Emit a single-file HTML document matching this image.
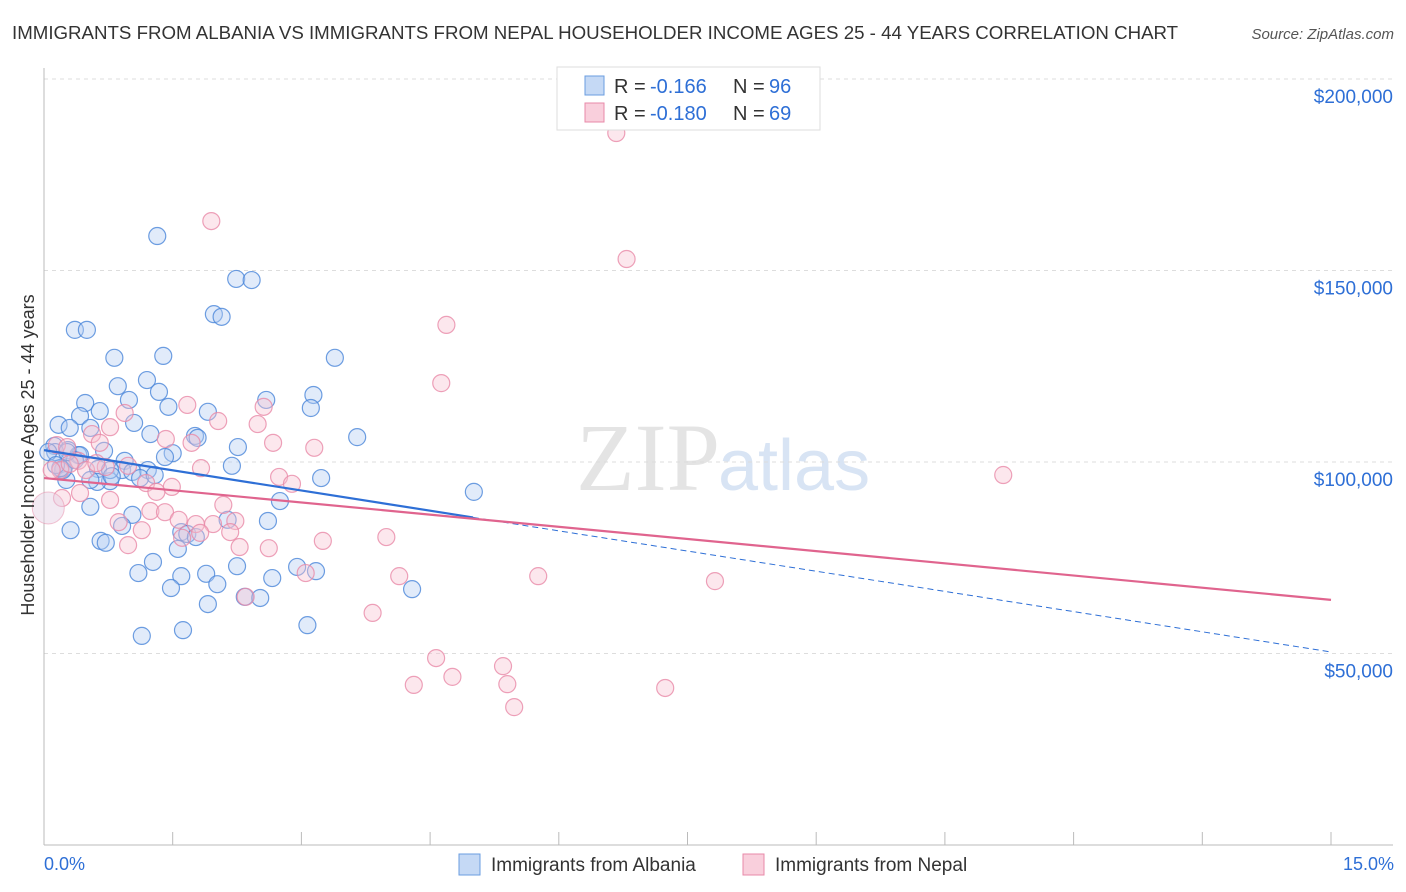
<!DOCTYPE html>
<html><head><meta charset="utf-8"><style>
body{margin:0;background:#fff;font-family:"Liberation Sans",sans-serif;}
svg{display:block}
</style></head><body>
<svg id="chart" width="1406" height="892">
<text x="12" y="39" font-size="18.7" fill="#333">IMMIGRANTS FROM ALBANIA VS IMMIGRANTS FROM NEPAL HOUSEHOLDER INCOME AGES 25 - 44 YEARS CORRELATION CHART</text>
<text x="1394" y="39" font-size="15" fill="#555" font-style="italic" text-anchor="end">Source: ZipAtlas.com</text>
<text x="720" y="490" font-size="96" fill="#e4e4e4" text-anchor="end" font-family="Liberation Serif,serif">ZIP</text>
<text x="718" y="490" font-size="72" fill="#d8e4f4">atlas</text>
<g id="grid"></g><g id="axes"></g><g id="pts"></g><g id="trend"></g>
<text transform="translate(34,455) rotate(-90)" font-size="18" fill="#333" text-anchor="middle">Householder Income Ages 25 - 44 years</text>
<g>
<rect x="557" y="67" width="263" height="63" fill="#fff" stroke="#ddd"/>
<rect x="585" y="76" width="19" height="19" fill="#c5d9f5" stroke="#6a9de0"/>
<rect x="585" y="103" width="19" height="19" fill="#f9cfdc" stroke="#e88aa8"/>
<text x="614" y="93" font-size="20" fill="#333">R =</text>
<text x="650" y="93" font-size="20" fill="#2e6fd6">-0.166</text>
<text x="733" y="93" font-size="20" fill="#333">N =</text>
<text x="769" y="93" font-size="20" fill="#2e6fd6">96</text>
<text x="614" y="120" font-size="20" fill="#333">R =</text>
<text x="650" y="120" font-size="20" fill="#2e6fd6">-0.180</text>
<text x="733" y="120" font-size="20" fill="#333">N =</text>
<text x="769" y="120" font-size="20" fill="#2e6fd6">69</text>
</g>
<g>
<rect x="459" y="854" width="21" height="21" fill="#c5d9f5" stroke="#6a9de0"/>
<text x="491" y="871" font-size="19" fill="#333">Immigrants from Albania</text>
<rect x="743" y="854" width="21" height="21" fill="#f9cfdc" stroke="#e88aa8"/>
<text x="775" y="871" font-size="19" fill="#333">Immigrants from Nepal</text>
</g>
<text x="44" y="870" font-size="18" fill="#2e6fd6">0.0%</text>
<text x="1394" y="870" font-size="18" fill="#2e6fd6" text-anchor="end">15.0%</text>
</svg>
<script>
const yTicks=[50,100,150,200];
const yTickLabels=["$50,000","$100,000","$150,000","$200,000"];
const xTicks=[0,1.5,3,4.5,6,7.5,9,10.5,12,13.5,15];
const albaniaPx=[[157,236],[236,279],[252,280],[214,314],[222,317],[75,330],[87,330],[163,356],[114,358],[335,358],[147,380],[118,386],[159,392],[313,395],[266,400],[129,400],[85,403],[168,407],[208,412],[100,411],[311,408],[80,416],[134,423],[59,425],[70,428],[90,428],[150,434],[357,437],[195,436],[198,438],[54,446],[238,447],[68,450],[173,453],[78,455],[104,451],[165,457],[55,452],[125,461],[232,466],[64,468],[148,470],[98,469],[122,470],[132,472],[140,478],[110,481],[97,482],[321,478],[66,480],[474,492],[90,507],[280,501],[132,515],[228,520],[268,521],[122,526],[71,530],[181,532],[187,534],[196,537],[101,541],[106,543],[178,549],[153,562],[237,566],[297,567],[316,571],[138,573],[181,576],[206,574],[272,578],[171,588],[217,584],[412,589],[245,597],[260,598],[208,604],[142,636],[183,630],[307,625],[63,470],[80,455],[110,470],[75,460],[60,468],[48,452],[56,465],[112,476],[90,480],[67,452],[155,475]];
const nepalPx=[[616,133],[211,221],[627,259],[446,325],[441,383],[264,407],[125,413],[187,405],[218,421],[258,424],[110,427],[166,439],[92,434],[273,443],[192,443],[314,448],[100,443],[57,445],[67,447],[78,461],[1003,475],[128,466],[106,467],[279,477],[292,484],[201,468],[86,470],[60,470],[70,464],[96,463],[52,470],[146,483],[172,487],[80,493],[156,492],[223,505],[150,511],[165,512],[179,520],[119,522],[213,524],[235,521],[196,524],[142,530],[230,532],[182,538],[323,541],[386,537],[128,545],[240,547],[269,548],[538,576],[399,576],[715,581],[306,573],[246,597],[373,613],[436,658],[503,666],[414,685],[452,677],[507,684],[665,688],[514,707],[62,498],[110,500],[200,533]];
const albaniaX=albaniaPx.map(p=>+((p[0]-44)/85.8).toFixed(2));
const albaniaY=albaniaPx.map(p=>+((845-p[1])/3.83).toFixed(1));
const nepalX=nepalPx.map(p=>+((p[0]-44)/85.8).toFixed(2));
const nepalY=nepalPx.map(p=>+((845-p[1])/3.83).toFixed(1));
const albaniaTrend=[103.1,50.4];
const nepalTrend=[95.8,64.0];
const X=v=>44+v*85.8, Y=v=>845-v*3.83;
const NS="http://www.w3.org/2000/svg";
function mk(tag,attrs,parent){const e=document.createElementNS(NS,tag);for(const k in attrs)e.setAttribute(k,attrs[k]);document.getElementById(parent).appendChild(e);return e;}
yTicks.forEach((t,i)=>{
 const l=mk('line',{x1:44,x2:1393,y1:Y(t),y2:Y(t),stroke:'#ddd','stroke-dasharray':'4,4'},'grid');
 
 
 const tx=mk('text',{x:1393,y:Y(t)+24,'font-size':19,fill:'#2e6fd6','text-anchor':'end'},'grid');
 tx.textContent=yTickLabels[i];
 
 
});
const ax=mk('line',{x1:44,x2:1393,y1:845,y2:845,stroke:'#bbb'},'axes');


const ay=mk('line',{x1:44,x2:44,y1:68,y2:845,stroke:'#bbb'},'axes');


xTicks.forEach(t=>{
 const l=mk('line',{x1:X(t),x2:X(t),y1:832,y2:845,stroke:'#bbb'},'axes');
 
 
});
function dots(xs,ys,fill,stroke,name){
 xs.forEach((x,i)=>{
  const c=mk('circle',{cx:X(x),cy:Y(ys[i]),r:8.5,fill:fill,'fill-opacity':0.4,stroke:stroke,'stroke-width':1.2,'stroke-opacity':0.8},'pts');
  
  
 });
}
dots(albaniaX,albaniaY,'#b3cdf2','#4a86d9','albania-point');
dots(nepalX,nepalY,'#f7c4d3','#e88aa8','nepal-point');
const big=mk('circle',{cx:X(0.05),cy:Y(88),r:16,fill:'#e6d3e6','fill-opacity':0.5,stroke:'#e88aa8','stroke-opacity':0.5},'pts');


const fa=v=>albaniaTrend[0]+(albaniaTrend[1]-albaniaTrend[0])*v/15;
const fn=v=>nepalTrend[0]+(nepalTrend[1]-nepalTrend[0])*v/15;
const t1=mk('line',{x1:X(0),y1:Y(fa(0)),x2:X(5),y2:Y(fa(5)),stroke:'#2e6fd6','stroke-width':2.2},'trend');


const t2=mk('line',{x1:X(5),y1:Y(fa(5)),x2:X(15),y2:Y(fa(15)),stroke:'#2e6fd6','stroke-width':1,'stroke-dasharray':'6,4'},'trend');


const t3=mk('line',{x1:X(0),y1:Y(fn(0)),x2:X(15),y2:Y(fn(15)),stroke:'#e0648e','stroke-width':2.2},'trend');


</script>
</body></html>
